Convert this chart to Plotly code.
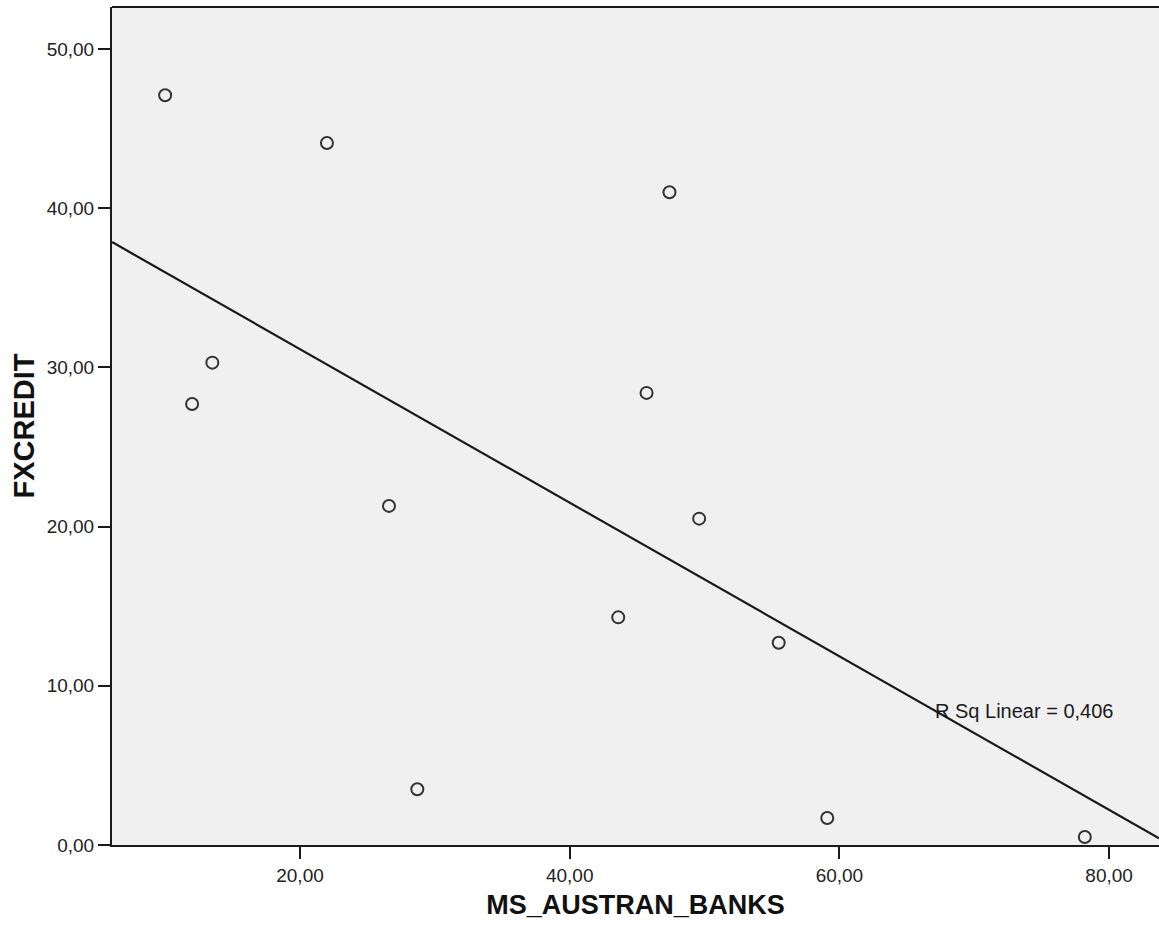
import numpy as np
import plotly.graph_objects as go

ms_austran_banks = [10.0, 22.0, 47.4, 13.5, 12.0, 45.7, 26.6, 49.6, 43.6, 55.5, 28.7, 59.1, 78.2]
fxcredit = [47.1, 44.1, 41.0, 30.3, 27.7, 28.4, 21.3, 20.5, 14.3, 12.7, 3.5, 1.7, 0.5]
x_range = [6.06, 83.7]
y_range = [0, 52.64]
tick_x = [20, 40, 60, 80]
tick_y = [0, 10, 20, 30, 40, 50]

x = np.array(ms_austran_banks)
y = np.array(fxcredit)
slope, intercept = np.polyfit(x, y, 1)
line_x = np.array(x_range)
line_y = slope * line_x + intercept

fig = go.Figure()
fig.add_trace(go.Scatter(x=line_x, y=line_y, mode="lines",
                         line=dict(color="#1a1a1a", width=2.2), showlegend=False, hoverinfo="skip"))
fig.add_trace(go.Scatter(x=x, y=y, mode="markers",
                         marker=dict(symbol="circle-open", size=12, color="#333333",
                                     line=dict(width=2, color="#333333")),
                         showlegend=False))

fig.add_annotation(x=66.95, y=8.4, xref="x", yref="y", text="R Sq Linear = 0,406",
                   showarrow=False, xanchor="left", yanchor="middle",
                   font=dict(family="Liberation Sans, Arial", size=20, color="#1a1a1a"))

axis_common = dict(showgrid=False, zeroline=False, showline=True, linecolor="#1a1a1a",
                   linewidth=2, ticks="outside", ticklen=12, tickwidth=2, tickcolor="#1a1a1a",
                   tickformat=".2f",
                   tickfont=dict(family="Liberation Sans, Arial", size=19, color="#222222"),
                   mirror=False)

fig.update_layout(
    width=1159, height=928,
    margin=dict(l=112, r=0, t=7, b=83),
    paper_bgcolor="white", plot_bgcolor="#f0f0f0",
    separators=",.",
    xaxis=dict(range=x_range, tickvals=tick_x, **axis_common,
               title=dict(text="<b>MS_AUSTRAN_BANKS</b>", standoff=10,
                          font=dict(family="Liberation Sans, Arial", size=27, color="#111111"))),
    yaxis=dict(range=y_range, tickvals=tick_y, **axis_common,
               title=dict(text="<b>FXCREDIT</b>", standoff=4,
                          font=dict(family="Liberation Sans, Arial", size=29, color="#111111"))),
)
fig.add_shape(type="line", xref="paper", yref="paper", x0=0, x1=1, y0=1, y1=1,
              line=dict(color="#1a1a1a", width=2))

fig.write_html("out.html")
